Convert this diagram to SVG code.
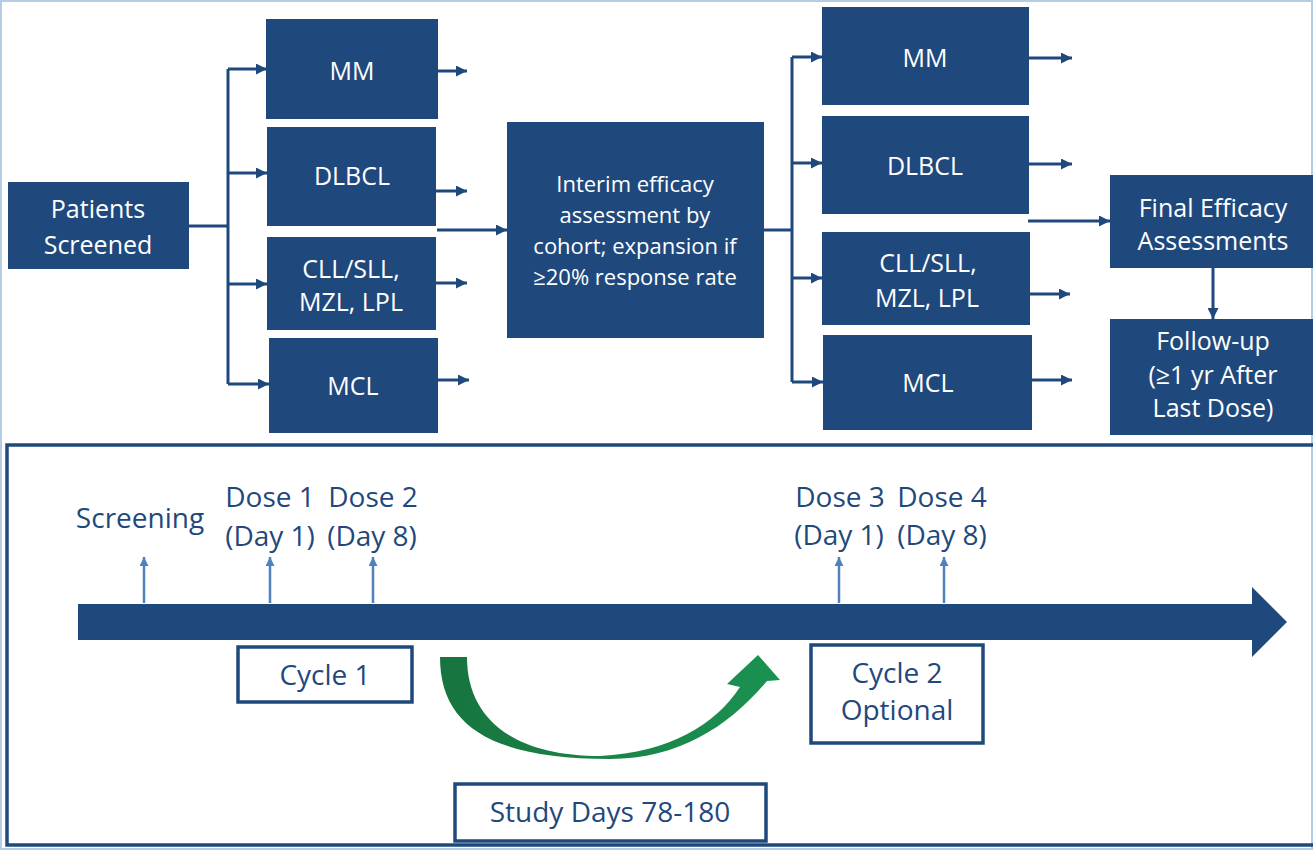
<svg xmlns="http://www.w3.org/2000/svg" width="1313" height="850" viewBox="0 0 1313 850">
  <style>
    .box { fill: #1f497d; }
    .wt { fill: #ffffff; font-family: "Open Sans", "Liberation Sans", sans-serif; font-size: 25px; text-anchor: middle; }
    .wt2 { fill: #ffffff; font-family: "Open Sans", "Liberation Sans", sans-serif; font-size: 22px; text-anchor: middle; }
    .bt { fill: #1f497d; font-family: "Open Sans", "Liberation Sans", sans-serif; font-size: 28px; text-anchor: middle; }
    .conn { stroke: #1f497d; stroke-width: 3; fill: none; }
    .tick { stroke: #4f81bd; stroke-width: 2.5; fill: none; }
    .obox { fill: #ffffff; stroke: #1f497d; stroke-width: 3.5; }
  </style>
  <defs>
    <marker id="ah" markerUnits="userSpaceOnUse" markerWidth="12" markerHeight="11" refX="11" refY="5.5" orient="auto">
      <path d="M0,0 L11,5.5 L0,11 Z" fill="#1f497d"/>
    </marker>
    <marker id="th" markerUnits="userSpaceOnUse" markerWidth="10" markerHeight="10" refX="9" refY="4.5" orient="auto">
      <path d="M0,0 L9,4.5 L0,9 Z" fill="#4f81bd"/>
    </marker>
    <linearGradient id="green" x1="0" y1="0" x2="1" y2="0">
      <stop offset="0" stop-color="#17743f"/>
      <stop offset="0.5" stop-color="#1a8447"/>
      <stop offset="1" stop-color="#1a9251"/>
    </linearGradient>
  </defs>

  <rect x="0" y="0" width="1313" height="850" fill="#ffffff"/>
  <rect x="1" y="1" width="1311" height="848" fill="none" stroke="#b4cde4" stroke-width="2"/>

  <!-- Connectors -->
  <g id="connectors">
    <path class="conn" d="M189 226 H228"/>
    <path class="conn" d="M228 69 V384"/>
    <path class="conn" d="M228 69 H267" marker-end="url(#ah)"/>
    <path class="conn" d="M228 173 H267" marker-end="url(#ah)"/>
    <path class="conn" d="M228 284 H267" marker-end="url(#ah)"/>
    <path class="conn" d="M228 384 H269" marker-end="url(#ah)"/>
    <path class="conn" d="M438 71 H467" marker-end="url(#ah)"/>
    <path class="conn" d="M436 191 H467" marker-end="url(#ah)"/>
    <path class="conn" d="M436 283 H467" marker-end="url(#ah)"/>
    <path class="conn" d="M438 380 H469" marker-end="url(#ah)"/>
    <path class="conn" d="M437 230 H507" marker-end="url(#ah)"/>

    <path class="conn" d="M764 230 H792"/>
    <path class="conn" d="M792 57 V382"/>
    <path class="conn" d="M792 57 H822" marker-end="url(#ah)"/>
    <path class="conn" d="M792 163 H822" marker-end="url(#ah)"/>
    <path class="conn" d="M792 278 H822" marker-end="url(#ah)"/>
    <path class="conn" d="M792 382 H823" marker-end="url(#ah)"/>
    <path class="conn" d="M1029 58 H1072" marker-end="url(#ah)"/>
    <path class="conn" d="M1029 164 H1072" marker-end="url(#ah)"/>
    <path class="conn" d="M1030 294 H1070" marker-end="url(#ah)"/>
    <path class="conn" d="M1032 380 H1072" marker-end="url(#ah)"/>
    <path class="conn" d="M1028 221 H1110" marker-end="url(#ah)"/>
    <path class="conn" d="M1213 268 V319" marker-end="url(#ah)"/>
  </g>

  <g id="patients">
    <rect class="box" x="8" y="182" width="181" height="87"/>
    <text class="wt" x="98" y="218">Patients</text>
    <text class="wt" x="98" y="254">Screened</text>
  </g>
  <g id="mm1">
    <rect class="box" x="266" y="19" width="172" height="100"/>
    <text class="wt" x="352" y="80">MM</text>
  </g>
  <g id="dlbcl1">
    <rect class="box" x="267" y="127" width="169" height="99"/>
    <text class="wt" x="352" y="185">DLBCL</text>
  </g>
  <g id="cll1">
    <rect class="box" x="267" y="237" width="169" height="93"/>
    <text class="wt" x="351" y="278">CLL/SLL,</text>
    <text class="wt" x="351" y="311">MZL, LPL</text>
  </g>
  <g id="mcl1">
    <rect class="box" x="269" y="338" width="169" height="95"/>
    <text class="wt" x="353" y="395">MCL</text>
  </g>
  <g id="interim">
    <rect class="box" x="507" y="122" width="257" height="216"/>
    <text class="wt2" x="635" y="192">Interim efficacy</text>
    <text class="wt2" x="635" y="223">assessment by</text>
    <text class="wt2" x="635" y="254">cohort; expansion if</text>
    <text class="wt2" x="635" y="285">≥20% response rate</text>
  </g>
  <g id="mm2">
    <rect class="box" x="822" y="7" width="207" height="98"/>
    <text class="wt" x="925" y="67">MM</text>
  </g>
  <g id="dlbcl2">
    <rect class="box" x="822" y="116" width="207" height="98"/>
    <text class="wt" x="925" y="175">DLBCL</text>
  </g>
  <g id="cll2">
    <rect class="box" x="822" y="232" width="208" height="93"/>
    <text class="wt" x="928" y="272">CLL/SLL,</text>
    <text class="wt" x="927" y="307">MZL, LPL</text>
  </g>
  <g id="mcl2">
    <rect class="box" x="823" y="335" width="209" height="95"/>
    <text class="wt" x="928" y="392">MCL</text>
  </g>
  <g id="final">
    <rect class="box" x="1110" y="175" width="205" height="93"/>
    <text class="wt" x="1213" y="217">Final Efficacy</text>
    <text class="wt" x="1213" y="250">Assessments</text>
  </g>
  <g id="followup">
    <rect class="box" x="1110" y="319" width="205" height="116"/>
    <text class="wt" x="1213" y="350">Follow-up</text>
    <text class="wt" x="1213" y="384">(≥1 yr After</text>
    <text class="wt" x="1213" y="417">Last Dose)</text>
  </g>

  <!-- Timeline panel -->
  <g id="timeline-panel">
    <rect x="7" y="445" width="1313" height="400" fill="none" stroke="#1f497d" stroke-width="3.5"/>
    <rect x="78" y="604" width="1175" height="36" fill="#1f497d"/>
    <polygon points="1252,587 1287,622 1252,657" fill="#1f497d"/>
  </g>
  <g id="ticks">
    <path class="tick" d="M144 603 V557" marker-end="url(#th)"/>
    <path class="tick" d="M270 603 V557" marker-end="url(#th)"/>
    <path class="tick" d="M373 603 V557" marker-end="url(#th)"/>
    <path class="tick" d="M839 603 V557" marker-end="url(#th)"/>
    <path class="tick" d="M944 603 V557" marker-end="url(#th)"/>
  </g>
  <g id="labels">
    <text class="bt" x="140" y="528">Screening</text>
    <text class="bt" x="270" y="507">Dose 1</text>
    <text class="bt" x="373" y="507">Dose 2</text>
    <text class="bt" x="270" y="546">(Day 1)</text>
    <text class="bt" x="372" y="546">(Day 8)</text>
    <text class="bt" x="840" y="507">Dose 3</text>
    <text class="bt" x="942" y="507">Dose 4</text>
    <text class="bt" x="839" y="545">(Day 1)</text>
    <text class="bt" x="942" y="545">(Day 8)</text>
  </g>
  <g id="cycle1">
    <rect class="obox" x="238" y="647" width="174" height="55"/>
    <text class="bt" x="325" y="685">Cycle 1</text>
  </g>
  <g id="cycle2">
    <rect class="obox" x="811" y="645" width="172" height="98"/>
    <text class="bt" x="897" y="683">Cycle 2</text>
    <text class="bt" x="897" y="720">Optional</text>
  </g>
  <g id="studydays">
    <rect class="obox" x="455" y="784" width="311" height="57"/>
    <text class="bt" x="610" y="822">Study Days 78-180</text>
  </g>
  <g id="green-arrow">
    <path fill="url(#green)" d="M440 657 C440 725 490 759 610 759 C680 759 730 725 767 681 L780 680 L758 655 L727 684 L740 687 C715 725 670 752 600 756 C515 756 467 720 467 657 Z"/>
  </g>
</svg>
